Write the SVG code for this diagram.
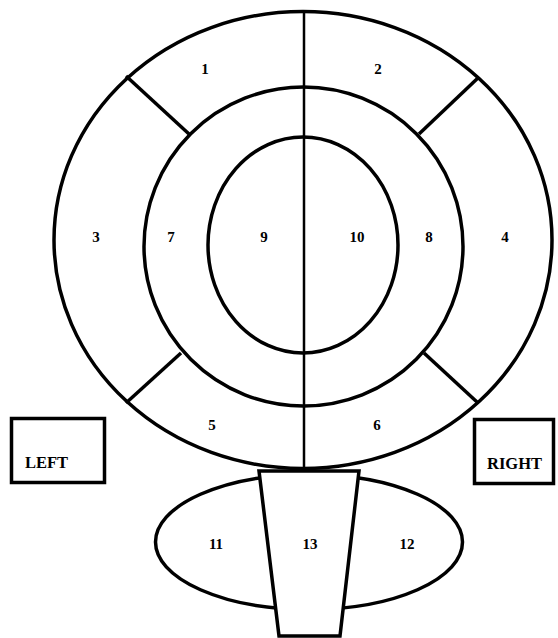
<svg xmlns="http://www.w3.org/2000/svg" width="558" height="638" viewBox="0 0 558 638">
<style>
.s{fill:none;stroke:#000;stroke-width:3.5}
.w{fill:#fff;stroke:#000;stroke-width:3.5}
.t{font-family:"Liberation Serif","Times New Roman",serif;font-weight:bold;font-size:15px;text-anchor:middle;fill:#000}
.b{font-family:"Liberation Serif","Times New Roman",serif;font-weight:bold;font-size:16.5px;fill:#000}
</style>
<rect width="558" height="638" fill="#fff"/>
<g id="outer"><ellipse class="s" cx="303" cy="240" rx="249" ry="228.5"/></g>
<g id="middle"><ellipse class="s" cx="303.5" cy="246.5" rx="159.5" ry="159.5"/></g>
<g id="inner"><ellipse class="s" cx="303" cy="245" rx="95" ry="108"/></g>
<g id="connectors">
<line x1="304" y1="11" x2="304" y2="469" stroke="#000" stroke-width="2.5"/>
<line class="s" x1="126" y1="76" x2="189" y2="134"/>
<line class="s" x1="479" y1="77" x2="419" y2="134"/>
<line class="s" x1="126" y1="403" x2="181" y2="353"/>
<line class="s" x1="477" y1="402" x2="424" y2="353"/>
</g>
<g id="bottom-ellipse"><ellipse class="s" cx="309" cy="542" rx="153.5" ry="67.5"/></g>
<g id="trapezoid"><polygon class="w" points="259,471 359,471 340,636 279,636" stroke-width="4"/></g>
<g id="left-box"><rect class="s" x="11.5" y="418.5" width="93" height="64"/><text class="b" x="25" y="468">LEFT</text></g>
<g id="right-box"><rect class="s" x="474.5" y="419.5" width="79" height="64"/><text class="b" x="487" y="469">RIGHT</text></g>
<g id="labels">
<text class="t" x="205" y="74">1</text>
<text class="t" x="378" y="74">2</text>
<text class="t" x="96" y="242">3</text>
<text class="t" x="171" y="242">7</text>
<text class="t" x="264" y="242">9</text>
<text class="t" x="357" y="242">10</text>
<text class="t" x="429" y="242">8</text>
<text class="t" x="505" y="242">4</text>
<text class="t" x="212" y="430">5</text>
<text class="t" x="377" y="430">6</text>
<text class="t" x="216" y="549">11</text>
<text class="t" x="310" y="549">13</text>
<text class="t" x="407" y="549">12</text>
</g>
</svg>
